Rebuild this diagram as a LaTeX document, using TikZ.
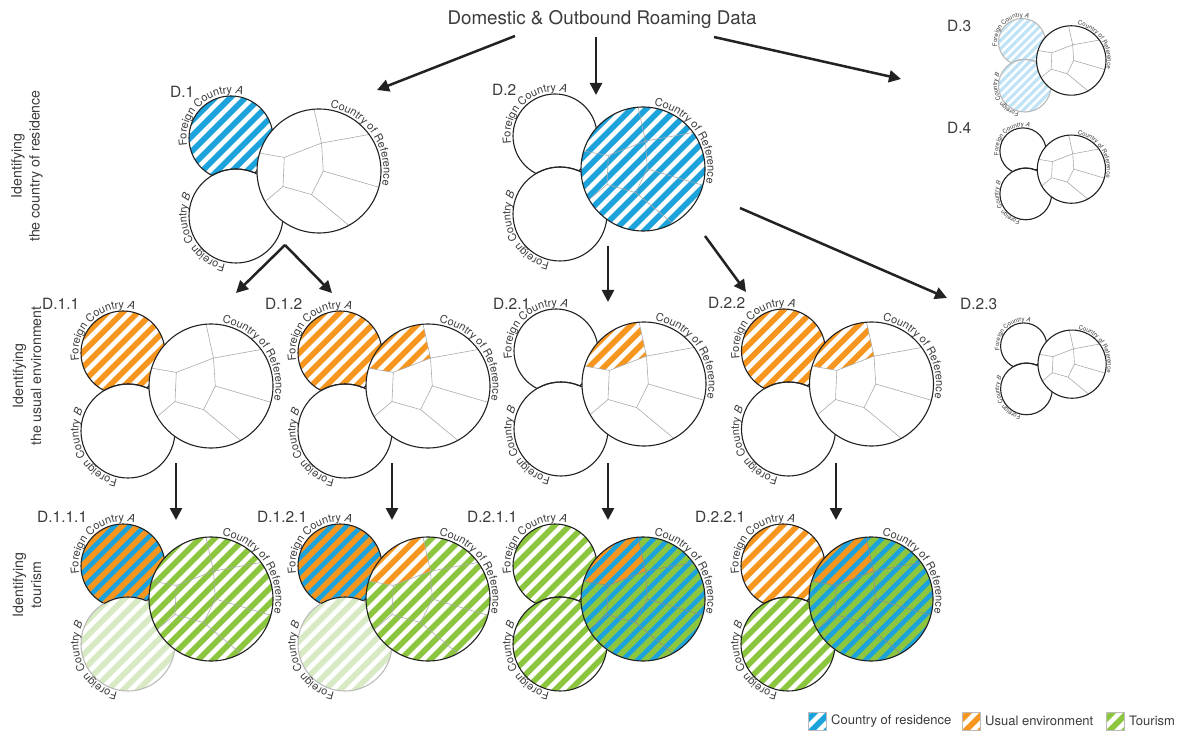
\documentclass[tikz,border=0pt]{standalone}
\usepackage{fontspec}
\setmainfont{TeX Gyre Heros}
\usetikzlibrary{arrows.meta,decorations.text,calc}

\definecolor{cblue}{HTML}{1CA3DC}
\definecolor{corange}{HTML}{F7961E}
\definecolor{cgreen}{HTML}{8CC63F}
\definecolor{cpalegreen}{HTML}{D8EAC4}
\definecolor{cpaleblue}{HTML}{C0E4F5}
\definecolor{ink}{HTML}{222222}
\definecolor{faint}{HTML}{BBBBBB}
\definecolor{voro}{HTML}{ABABAB}
\definecolor{vorodark}{HTML}{8C8C8C}
\definecolor{txt}{HTML}{3C3C3C}

\tikzset{
  outl/.style={line width=1.1pt},
  vorol/.style={line width=0.6pt},
  flow/.style={line width=2.5pt, draw=ink, -{Triangle[length=12pt,width=12pt]}},
  dlabel/.style={anchor=west, inner sep=0pt, text=txt, font=\fontsize{15.5}{17}\selectfont},
  rowlab/.style={rotate=90, align=center, text=txt, inner sep=0pt, font=\fontsize{14.2}{18}\selectfont},
  legtext/.style={anchor=west, inner sep=0pt, text=txt, font=\fontsize{13}{15}\selectfont},
}

% plain white region
\newcommand\plainfill{\fill[white] (-70,-150) rectangle (175,75);}
% diagonal stripes: background #1, stripes #2
\newcommand\stripes[2]{%
  \fill[#1] (-70,-150) rectangle (175,75);
  \foreach \sx in {-150,-135,...,330}{%
    \fill[#2] (\sx-150,-150) -- (\sx+75,75) -- (\sx+83,75) -- (\sx-142,-150) -- cycle;}}

\pgfkeys{/rd/.cd,
  A/.store in=\rdA, B/.store in=\rdB, R/.store in=\rdR, U/.store in=\rdU,
  al/.store in=\rdal, bl/.store in=\rdbl, vl/.store in=\rdvl, fs/.store in=\rdfs}

% three-country diagram: #1 centre of country A, #2 scale, #3 options
\newcommand\rdiag[3]{%
\begingroup
\pgfkeys{/rd/.cd, A=\plainfill, B=\plainfill, R=\plainfill, U=, al=ink, bl=ink, vl=voro, fs=11, #3}%
\begin{scope}[shift={#1}, scale=#2]
  % foreign country A
  \begin{scope}\clip (0,0) circle (42); \rdA \end{scope}
  \draw[\rdal, outl] (0,0) circle (42);
  % foreign country B
  \begin{scope}\clip (5,-78) circle (47); \rdB \end{scope}
  \draw[\rdbl, outl] (5,-78) circle (47);
  \begin{scope}\clip (0,0) circle (42); \draw[\rdal, outl] (5,-78) circle (47); \end{scope}
  % country of reference with its regions
  \begin{scope}\clip (88,-33) circle (62);
    \rdR
    \ifx\rdU\empty\else
      \begin{scope}\clip (80.3,41.4) -- (90.5,-5.1) -- (53.3,-19.4) -- (13.6,-12.5) -- (13.6,41.4) -- cycle; \rdU \end{scope}
    \fi
    \draw[\rdvl, vorol] (80.3,41.4) -- (90.5,-5.1) -- (92.3,-33) -- (80.6,-56.6) -- (52.0,-48.5) -- (53.3,-19.4) -- (90.5,-5.1);
    \draw[\rdvl, vorol] (90.5,-5.1) -- (162.4,7.9);
    \draw[\rdvl, vorol] (53.3,-19.4) -- (13.6,-12.5);
    \draw[\rdvl, vorol] (92.3,-33) -- (162.4,-53.5);
    \draw[\rdvl, vorol] (52.0,-48.5) -- (19.8,-75.8);
    \draw[\rdvl, vorol] (80.6,-56.6) -- (134.5,-101.2);
  \end{scope}
  \draw[ink, outl] (88,-33) circle (62);
  % curved names
  \path[decorate, decoration={text along path, text align=left,
      text={|\fontsize{\rdfs}{\rdfs}\selectfont\color{txt}|Foreign Country |\fontsize{\rdfs}{\rdfs}\selectfont\color{txt}\itshape|A}}]
    (190:44.5) arc[start angle=190, end angle=20, radius=44.5];
  \path[decorate, decoration={text along path, text align=left,
      text={|\fontsize{\rdfs}{\rdfs}\selectfont\color{txt}|Foreign Country |\fontsize{\rdfs}{\rdfs}\selectfont\color{txt}\itshape|B}}]
    ($(5,-78)+(258:49.5)$) arc[start angle=258, end angle=90, radius=49.5];
  \path[decorate, decoration={text along path, text align=left,
      text={|\fontsize{\rdfs}{\rdfs}\selectfont\color{txt}|Country of Reference}}]
    ($(88,-33)+(80:64.5)$) arc[start angle=80, end angle=-70, radius=64.5];
\end{scope}
\endgroup}

\begin{document}
\begin{tikzpicture}[x=1pt, y=1pt]
\useasboundingbox (0,0) rectangle (1186,-735);
\fill[white] (0,0) rectangle (1186,-735);

% title and row labels
\node[text=txt, font=\fontsize{18.8}{21}\selectfont, inner sep=0pt] (title) at (602,-20) {Domestic \& Outbound Roaming Data};
\node[rowlab] (row1) at (27,-166) {Identifying\\the country of residence};
\node[rowlab] (row2) at (27,-376) {Identifying\\the usual environment};
\node[rowlab] (row3) at (27,-585) {Identifying\\tourism};

% diagrams
\rdiag{(231,-138)}{1}{A=\stripes{white}{cblue}}
\rdiag{(555,-136)}{1}{R=\stripes{white}{cblue}}
\rdiag{(1022,-42)}{0.56}{A=\stripes{white}{cpaleblue}, B=\stripes{white}{cpaleblue}, al=faint, bl=faint, fs=6.2}
\rdiag{(1023,-151)}{0.55}{fs=6.1}
\rdiag{(123,-353)}{1}{A=\stripes{white}{corange}}
\rdiag{(340,-353)}{1}{A=\stripes{white}{corange}, U=\stripes{white}{corange}}
\rdiag{(556,-351)}{1}{U=\stripes{white}{corange}}
\rdiag{(783.5,-351)}{1}{A=\stripes{white}{corange}, U=\stripes{white}{corange}}
\rdiag{(1023.7,-346)}{0.55}{fs=6.1}
\rdiag{(123,-566)}{1}{A=\stripes{cblue}{corange}, B=\stripes{white}{cpalegreen}, bl=faint, R=\stripes{white}{cgreen}}
\rdiag{(340,-566)}{1}{A=\stripes{cblue}{corange}, B=\stripes{white}{cpalegreen}, bl=faint, R=\stripes{white}{cgreen}, U=\stripes{white}{corange}}
\rdiag{(555,-566)}{1}{A=\stripes{white}{cgreen}, B=\stripes{white}{cgreen}, R=\stripes{cblue}{cgreen}, U=\stripes{cblue}{corange}, vl=vorodark}
\rdiag{(783,-566)}{1}{A=\stripes{white}{corange}, B=\stripes{white}{cgreen}, R=\stripes{cblue}{cgreen}, U=\stripes{cblue}{corange}, vl=vorodark}

% diagram names
\node[dlabel] (l1) at (170,-92) {D.1};
\node[dlabel] (l2) at (492,-90) {D.2};
\node[dlabel] (l3) at (947,-26) {D.3};
\node[dlabel] (l4) at (947,-128) {D.4};
\node[dlabel] (l11) at (42,-304) {D.1.1};
\node[dlabel] (l12) at (265,-304) {D.1.2};
\node[dlabel] (l21) at (493,-304) {D.2.1};
\node[dlabel] (l22) at (708,-303) {D.2.2};
\node[dlabel] (l23) at (960,-304) {D.2.3};
\node[dlabel] (l111) at (37,-517) {D.1.1.1};
\node[dlabel] (l121) at (257,-517) {D.1.2.1};
\node[dlabel] (l211) at (467,-517) {D.2.1.1};
\node[dlabel] (l221) at (695,-517) {D.2.2.1};

% arrow end points
\coordinate (s1) at (515,-36);  \coordinate (e1) at (377,-90);
\coordinate (s2) at (596,-37);  \coordinate (e2) at (596,-95);
\coordinate (s3) at (714,-37);  \coordinate (e3) at (901,-79);
\coordinate (s4) at (285,-245); \coordinate (e4a) at (236,-293); \coordinate (e4b) at (332,-293);
\coordinate (s5) at (608,-246); \coordinate (e5) at (608,-302);
\coordinate (s6) at (705,-236); \coordinate (e6) at (746,-292);
\coordinate (s7) at (740,-208); \coordinate (e7) at (947,-298);
\coordinate (s8) at (176,-463); \coordinate (e8) at (176,-520);
\coordinate (s9) at (392,-463); \coordinate (e9) at (392,-520);
\coordinate (s10) at (608,-463); \coordinate (e10) at (608,-520);
\coordinate (s11) at (836,-463); \coordinate (e11) at (836,-520);

\draw[flow] (s1) -- (e1);
\draw[flow] (s2) -- (e2);
\draw[flow] (s3) -- (e3);
\draw[flow] (s4) -- (e4a);
\draw[flow] (s4) -- (e4b);
\draw[flow] (s5) -- (e5);
\draw[flow] (s6) -- (e6);
\draw[flow] (s7) -- (e7);
\draw[flow] (s8) -- (e8);
\draw[flow] (s9) -- (e9);
\draw[flow] (s10) -- (e10);
\draw[flow] (s11) -- (e11);

% legend
\begin{scope}[shift={(808,-730)}]
  \begin{scope}\clip (0,0) rectangle (18,18); \stripes{white}{cblue} \end{scope}
  \draw[faint, line width=0.8pt] (0,0) rectangle (18,18);
\end{scope}
\node[legtext] (k1) at (831,-721) {Country of residence};
\begin{scope}[shift={(962,-730)}]
  \begin{scope}\clip (0,0) rectangle (18,18); \stripes{white}{corange} \end{scope}
  \draw[faint, line width=0.8pt] (0,0) rectangle (18,18);
\end{scope}
\node[legtext] (k2) at (985,-721) {Usual environment};
\begin{scope}[shift={(1106,-730)}]
  \begin{scope}\clip (0,0) rectangle (18,18); \stripes{white}{cgreen} \end{scope}
  \draw[faint, line width=0.8pt] (0,0) rectangle (18,18);
\end{scope}
\node[legtext] (k3) at (1129,-721) {Tourism};
\end{tikzpicture}
\end{document}
